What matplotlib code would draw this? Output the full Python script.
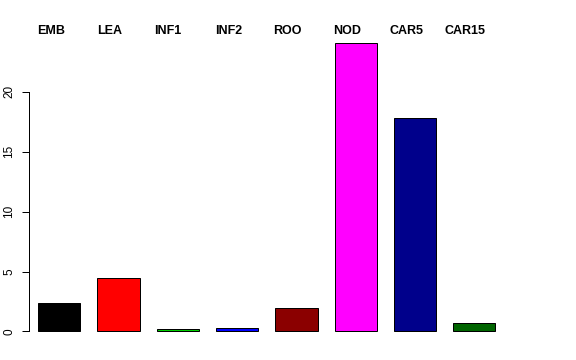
import matplotlib
matplotlib.use("Agg")
import matplotlib.pyplot as plt

plt.rcParams['font.family'] = ['Liberation Sans', 'DejaVu Sans']

# Data
tissues = ['EMB', 'LEA', 'INF1', 'INF2', 'ROO', 'NOD', 'CAR5', 'CAR15']
values = [2.35, 4.43, 0.17, 0.27, 1.92, 24.1, 17.8, 0.72]
colors = ['#000000', '#FF0000', '#00CD00', '#0000FF', '#8B0000', '#FF00FF', '#00008B', '#006400']
label_x = [0.72, 2.10, 3.47, 4.89, 6.28, 7.70, 9.09, 10.49]
yticks = [0, 5, 10, 15, 20]

# R-style barplot positions (width 1, space 0.4)
pos = [0.9 + 1.4 * i for i in range(len(values))]

fig = plt.figure(figsize=(5.76, 3.6), dpi=100)
ax = fig.add_axes([29 / 576, 17 / 360, 482 / 576, 312 / 360])

ax.bar(pos, values, width=1.0, color=colors, edgecolor='black', linewidth=0.72)

ax.set_xlim(0.1875, 11.566)
ax.set_ylim(-0.96, 25.07)

for s in ['top', 'right', 'bottom']:
    ax.spines[s].set_visible(False)
ax.spines['left'].set_bounds(0, 20)
ax.spines['left'].set_linewidth(0.72)
ax.set_xticks([])
ax.set_yticks(yticks)
ax.set_yticklabels([str(t) for t in yticks], rotation=90, va='center', fontsize=8.5)
ax.tick_params(axis='y', length=5, width=0.72, pad=5)

for x, lab in zip(label_x, tissues):
    ax.text(x, 24.82, lab, ha='center', va='baseline', fontsize=9,
            fontweight='bold', clip_on=False)

fig.savefig('out.png', dpi=100)
